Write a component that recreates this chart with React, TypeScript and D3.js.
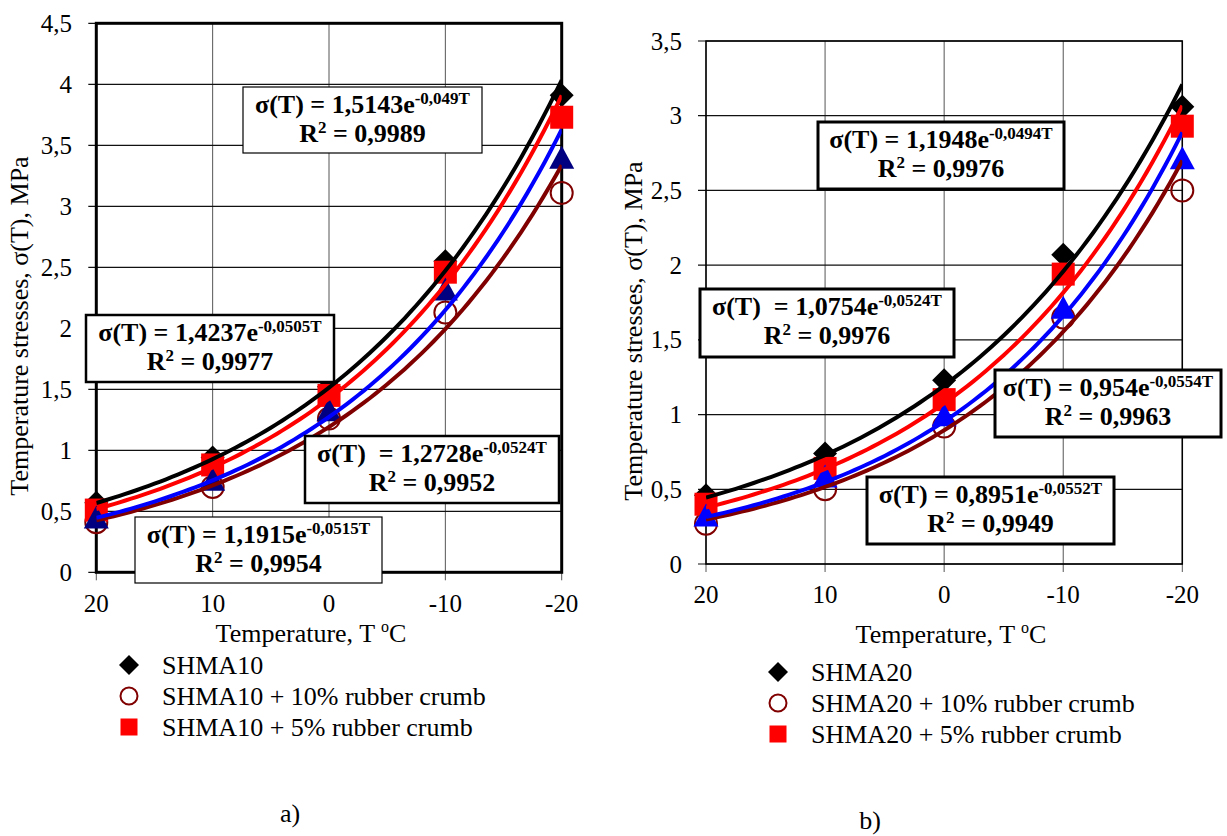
import React from 'react';
import * as d3 from 'd3';

// temperatures on the x axis (reversed: 20 -> -20)
const temps = [20, 10, 0, -10, -20];

// panel a) measured stresses, MPa
const shma10 = [0.57, 0.94, 1.52, 2.55, 3.91];
const shma10Crumb10 = [0.41, 0.7, 1.26, 2.13, 3.11];
const shma10Crumb5 = [0.51, 0.88, 1.45, 2.46, 3.73];
const shma10Extra = [0.43, 0.74, 1.31, 2.3, 3.38];

// panel b) measured stresses, MPa
const shma20 = [0.46, 0.74, 1.23, 2.07, 3.06];
const shma20Crumb10 = [0.27, 0.5, 0.92, 1.65, 2.5];
const shma20Crumb5 = [0.4, 0.64, 1.1, 1.94, 2.93];
const shma20Extra = [0.31, 0.57, 0.98, 1.7, 2.7];

// exponential trendlines sigma = A * exp(k * T) : [A, k]
const fitA = [[1.5143, -0.049], [1.1915, -0.0515], [1.4237, -0.0505], [1.2728, -0.0524]];
const fitB = [[1.1948, -0.0494], [0.8951, -0.0552], [1.0754, -0.0524], [0.954, -0.0554]];

// equation labels: [left part, exponent, R2]
const eqA = [
  ['σ(T) = 1,5143e', '-0,049T', '0,9989'],
  ['σ(T) = 1,1915e', '-0,0515T', '0,9954'],
  ['σ(T) = 1,4237e', '-0,0505T', '0,9977'],
  ['σ(T)  = 1,2728e', '-0,0524T', '0,9952'],
];
const eqB = [
  ['σ(T) = 1,1948e', '-0,0494T', '0,9976'],
  ['σ(T) = 0,8951e', '-0,0552T', '0,9949'],
  ['σ(T)  = 1,0754e', '-0,0524T', '0,9976'],
  ['σ(T) = 0,954e', '-0,0554T', '0,9963'],
];

const yTicksA = [0, 0.5, 1, 1.5, 2, 2.5, 3, 3.5, 4, 4.5];
const yTicksB = [0, 0.5, 1, 1.5, 2, 2.5, 3, 3.5];
const legendA = ['SHMA10', 'SHMA10 + 10% rubber crumb', 'SHMA10 + 5% rubber crumb'];
const legendB = ['SHMA20', 'SHMA20 + 10% rubber crumb', 'SHMA20 + 5% rubber crumb'];

const FONT = "'Liberation Serif', 'Times New Roman', serif";
const lineColors = ['#000000', '#800000', '#ff0000', '#0000ff'];
const fmt = (v: number) => String(v).replace('.', ',');

type Box = { x: number; y: number; w: number; h: number; sw: number };

type PanelProps = {
  id: string;
  left: number; right: number; top: number; bottom: number;
  yMax: number; yTicks: number[];
  series: number[][]; fits: number[][]; eqs: string[][]; boxes: Box[];
  triColor: string; frame: number;
  yTitleX: number; yTitleY: number; xTitleX: number; xTitleY: number;
  tickLabelX: number; xLabelY: number;
  legend: string[]; legX: number; legY: number;
  caption: string; capX: number; capY: number;
};

function Panel(p: PanelProps) {
  const x = d3.scaleLinear().domain([20, -20]).range([p.left, p.right]);
  const y = d3.scaleLinear().domain([0, p.yMax]).range([p.bottom, p.top]);
  const curve = d3.range(20, -20.01, -0.5);
  const line = d3.line<number>().x(t => x(t)).y(t => y(t));
  const [black, circ, sq, tri] = p.series;

  const diamond = (r: number) => `M0,${-r}L${r},0L0,${r}L${-r},0Z`;
  const triangle = (w: number, h: number) => `M0,${-h * 0.62}L${w / 2},${h * 0.38}L${-w / 2},${h * 0.38}Z`;

  return (
    <g style={{ fontFamily: FONT }}>
      <defs>
        <clipPath id={`clip-${p.id}`}>
          <rect x={p.left} y={p.top} width={p.right - p.left} height={p.bottom - p.top} />
        </clipPath>
      </defs>
      {/* grid */}
      {temps.map(t => (
        <line key={`vx${t}`} x1={x(t)} x2={x(t)} y1={p.top} y2={p.bottom + 8} stroke="#555" strokeWidth={1} />
      ))}
      {p.yTicks.map(v => (
        <line key={`hy${v}`} x1={p.left - 8} x2={p.right} y1={y(v)} y2={y(v)} stroke="#111" strokeWidth={1.2} />
      ))}
      {/* frame */}
      <rect x={p.left} y={p.top} width={p.right - p.left} height={p.bottom - p.top} fill="none" stroke="#000" strokeWidth={p.frame} />
      {/* tick labels */}
      {p.yTicks.map(v => (
        <text key={`yl${v}`} x={p.tickLabelX} y={y(v) + 8.5} textAnchor="end" fontSize={25}>{fmt(v)}</text>
      ))}
      {temps.map(t => (
        <text key={`xl${t}`} x={x(t)} y={p.xLabelY} textAnchor="middle" fontSize={25}>{t}</text>
      ))}
      {/* axis titles */}
      <text transform={`translate(${p.yTitleX},${p.yTitleY}) rotate(-90)`} textAnchor="middle" fontSize={26}>
        Temperature stresses, σ(T), MPa
      </text>
      <text x={p.xTitleX} y={p.xTitleY} textAnchor="middle" fontSize={26}>
        Temperature, T <tspan fontSize={16} dy={-10}>o</tspan><tspan dy={10}>C</tspan>
      </text>
      {/* markers */}
      {black.map((v, i) => (
        <path key={`d${i}`} d={diamond(12)} transform={`translate(${x(temps[i])},${y(v)})`} fill="#000" />
      ))}
      {circ.map((v, i) => (
        <circle key={`c${i}`} cx={x(temps[i])} cy={y(v)} r={11} fill="none" stroke="#800000" strokeWidth={2} />
      ))}
      {sq.map((v, i) => (
        <rect key={`s${i}`} x={x(temps[i]) - 11.5} y={y(v) - 11.5} width={23} height={23} fill="#ff0000" />
      ))}
      {tri.map((v, i) => (
        <path key={`t${i}`} d={triangle(25, 23)} transform={`translate(${x(temps[i])},${y(v)})`} fill={p.triColor} />
      ))}
      {/* trendlines */}
      <g clipPath={`url(#clip-${p.id})`}>
        {p.fits.map(([a, k], i) => (
          <path key={`f${i}`} d={line.y(t => y(a * Math.exp(k * t)))(curve) || ''} fill="none" stroke={lineColors[i]} strokeWidth={4} />
        ))}
      </g>
      {/* equation boxes */}
      {p.boxes.map((b, i) => (
        <g key={`b${i}`}>
          <rect x={b.x} y={b.y} width={b.w} height={b.h} fill="#fff" stroke="#000" strokeWidth={b.sw} />
          <text x={b.x + b.w / 2} y={b.y + 26} textAnchor="middle" fontSize={26} fontWeight="bold" style={{ whiteSpace: 'pre' }}>
            {p.eqs[i][0]}<tspan fontSize={17} dy={-9}>{p.eqs[i][1]}</tspan>
          </text>
          <text x={b.x + b.w / 2} y={b.y + 55} textAnchor="middle" fontSize={26} fontWeight="bold">
            R<tspan fontSize={17} dy={-9}>2</tspan><tspan dy={9}>{` = ${p.eqs[i][2]}`}</tspan>
          </text>
        </g>
      ))}
      {/* legend */}
      <g transform={`translate(${p.legX},${p.legY})`}>
        <path d={diamond(10)} fill="#000" />
        <circle cx={0} cy={31} r={8.5} fill="#fff" stroke="#800000" strokeWidth={2} />
        <rect x={-8.5} y={62 - 8.5} width={17} height={17} fill="#ff0000" />
        {p.legend.map((s, i) => (
          <text key={`l${i}`} x={33} y={i * 31 + 9} fontSize={26}>{s}</text>
        ))}
      </g>
      <text x={p.capX} y={p.capY} textAnchor="middle" fontSize={26}>{p.caption}</text>
    </g>
  );
}

export default function App() {
  return (
    <svg width={1227} height={836} style={{ position: 'absolute', left: 0, top: 0, background: '#fff' }}>
      <Panel
        id="a" left={96.3} right={561.7} top={23.3} bottom={572.3} yMax={4.5} yTicks={yTicksA}
        series={[shma10, shma10Crumb10, shma10Crumb5, shma10Extra]} fits={fitA} eqs={eqA}
        boxes={[
          { x: 243, y: 87, w: 239, h: 66, sw: 1.2 },
          { x: 135, y: 517, w: 247, h: 66, sw: 1.2 },
          { x: 86, y: 315, w: 248, h: 67, sw: 2.5 },
          { x: 305, y: 436, w: 254, h: 67, sw: 2.5 },
        ]}
        triColor="#000080" frame={3}
        yTitleX={28} yTitleY={326} xTitleX={311} xTitleY={642}
        tickLabelX={72} xLabelY={612}
        legend={legendA} legX={129} legY={665}
        caption="a)" capX={290} capY={822}
      />
      <Panel
        id="b" left={706} right={1182.3} top={41} bottom={564} yMax={3.5} yTicks={yTicksB}
        series={[shma20, shma20Crumb10, shma20Crumb5, shma20Extra]} fits={fitB} eqs={eqB}
        boxes={[
          { x: 818, y: 122, w: 246, h: 67, sw: 3 },
          { x: 867, y: 477, w: 247, h: 67, sw: 3 },
          { x: 700, y: 289, w: 254, h: 68, sw: 3 },
          { x: 995, y: 370, w: 226, h: 67, sw: 3 },
        ]}
        triColor="#0000ff" frame={1.5}
        yTitleX={642} yTitleY={331} xTitleX={951} xTitleY={643}
        tickLabelX={682} xLabelY={603}
        legend={legendB} legX={778} legY={672}
        caption="b)" capX={870} capY={829}
      />
    </svg>
  );
}
